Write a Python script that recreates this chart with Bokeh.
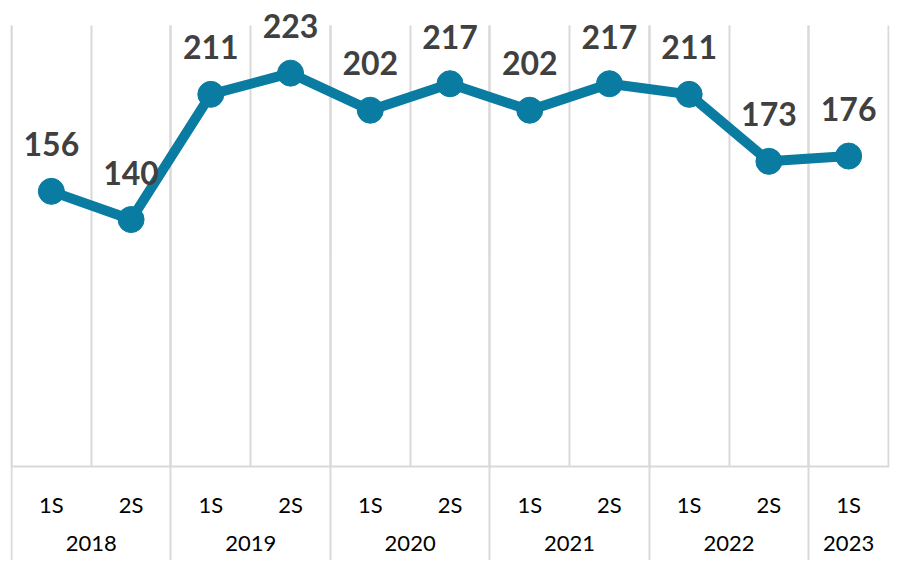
from bokeh.plotting import figure
from bokeh.models import (FactorRange, FixedTicker, Grid, ColumnDataSource,
                          Range1d, CategoricalAxis)
from bokeh.core.properties import value
from bokeh.embed import file_html
from bokeh.resources import INLINE

# ---- data ----
years = ["2018", "2018", "2019", "2019", "2020", "2020",
         "2021", "2021", "2022", "2022", "2023"]
halves = ["1S", "2S", "1S", "2S", "1S", "2S", "1S", "2S", "1S", "2S", "1S"]
values = [156, 140, 211, 223, 202, 217, 202, 217, 211, 173, 176]

Y_MAX = 250        # top of the value scale (grid lines end here)
Y_TOP = 264.2      # extra room above for the data labels
Y_MIN = -53.3      # room below zero for the category labels

factors = list(zip(years, halves))
n = len(factors)
boundaries = list(range(n + 1))
year_bounds = [i for i in range(n) if i == 0 or years[i] != years[i - 1]]

LINE_COLOR = "#0A7BA1"
GRID_COLOR = "#D9D9D9"

x_range = FactorRange(factors=factors, factor_padding=0, subgroup_padding=0,
                      group_padding=0, range_padding=0.0125,
                      range_padding_units="absolute")

p = figure(width=890, height=560, x_range=x_range,
           y_range=Range1d(Y_MIN, Y_TOP), y_axis_type=None, x_axis_type=None,
           output_backend="svg", toolbar_location=None,
           min_border_left=10, min_border_right=1, min_border_top=0,
           min_border_bottom=0)
p.outline_line_color = None
p.background_fill_color = "white"
p.border_fill_color = "white"

# grid lines between half-years (above the axis line only)
g1 = Grid(dimension=0, ticker=FixedTicker(ticks=boundaries),
          bounds=(-0.5, n + 0.5), cross_bounds=(0, Y_MAX),
          grid_line_color=GRID_COLOR, grid_line_width=2)
# year separators running down through the label area
g2 = Grid(dimension=0, ticker=FixedTicker(ticks=year_bounds),
          bounds=(-0.5, n + 0.5), cross_bounds=(Y_MIN, Y_MAX),
          grid_line_color=GRID_COLOR, grid_line_width=2)
p.add_layout(g1)
p.add_layout(g2)

# axis with half-year labels
ax1 = CategoricalAxis(fixed_location=0)
ax1.axis_line_color = GRID_COLOR
ax1.axis_line_width = 2
ax1.major_tick_line_color = None
ax1.minor_tick_line_color = None
ax1.separator_line_color = None
ax1.major_label_text_font = "Lato"
ax1.major_label_text_font_size = "22px"
ax1.major_label_text_color = "#000000"
ax1.major_label_standoff = 19
ax1.group_text_color = None
p.add_layout(ax1, "below")

# axis with year labels
ax2 = CategoricalAxis(fixed_location=0)
ax2.axis_line_color = None
ax2.major_tick_line_color = None
ax2.minor_tick_line_color = None
ax2.separator_line_color = None
ax2.major_label_text_font = "Lato"
ax2.major_label_text_font_size = "22px"
ax2.major_label_text_color = None
ax2.major_label_standoff = 64
ax2.group_text_font = "Lato"
ax2.group_text_font_size = "22px"
ax2.group_text_color = "#000000"
ax2.group_text_font_style = "normal"
p.add_layout(ax2, "below")

src = ColumnDataSource(dict(x=factors, y=values, label=[str(v) for v in values]))

p.line(x="x", y="y", source=src, line_width=10, line_color=LINE_COLOR,
       line_join="round")
p.scatter(x="x", y="y", source=src, size=26, fill_color=LINE_COLOR,
          line_color=LINE_COLOR)
p.text(x="x", y="y", text="label", source=src, text_align="center",
       text_baseline="alphabetic", y_offset=-47,
       text_font=value("Lato"), text_font_style="bold",
       text_font_size="32px", text_color="#404040")

open("out.html", "w").write(file_html(p, INLINE))
